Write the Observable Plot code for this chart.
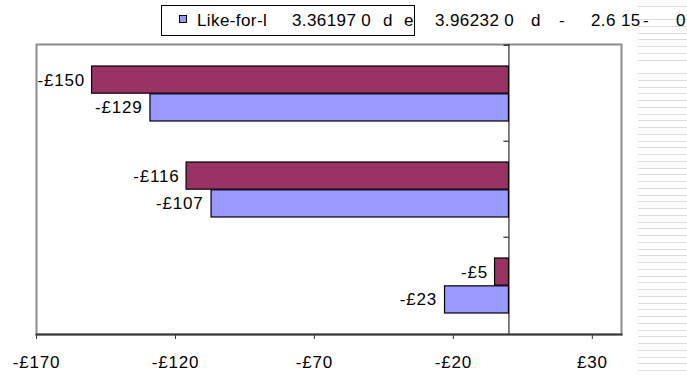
<!DOCTYPE html>
<html><head><meta charset="utf-8">
<script src="https://cdn.jsdelivr.net/npm/d3@7"></script>
<script src="https://cdn.jsdelivr.net/npm/@observablehq/plot@0.6"></script>
<style>
body{margin:0;background:#fff;font-family:"Liberation Sans",Arial,sans-serif;}
#wrap{position:relative;width:687px;height:377px;overflow:hidden;}
#grid{position:absolute;left:638px;top:0;width:49px;height:377px;
  background:repeating-linear-gradient(to bottom, transparent 0px, transparent 5.75px, #dcdcdc 5.75px, #dcdcdc 6.75px);}
#legend{position:relative;height:40px;font-size:17px;color:#000;letter-spacing:0.4px;}
#legend span{position:absolute;top:11px;line-height:20px;white-space:pre;}
#lbox{position:absolute;left:161px;top:5px;width:254px;height:31px;border:1px solid #000;box-sizing:border-box;}
#lsw{position:absolute;left:179px;top:15px;width:8px;height:8px;background:#9999FF;border:1px solid #000;box-sizing:border-box;}
#chart{position:relative;}
#chart svg text{letter-spacing:0.8px;}
</style></head>
<body>
<div id="wrap">
  <div id="grid"></div>
  <div id="legend"></div>
  <div id="chart"></div>
</div>
<script>
// Data
const groups = ["Group 1", "Group 2", "Group 3"];
const seriesNames = ["Series 1", "Like-for-like"];
const series1 = [-150, -116, -5];   // maroon
const series2 = [-129, -107, -23];  // blue
const xTicks = [-170, -120, -70, -20, 30];
const legendFragments = [
  ["Like-for-l", 197], ["3.36197 0", 292], ["d", 383], ["e", 404],
  ["3.96232 0", 435], ["d", 531], ["-", 559], ["2.6", 591], ["15", 621], ["-", 643], ["0", 676]
];

const fmt = d => (d < 0 ? "-£" + (-d) : "£" + d);

// Legend (above the SVG)
const leg = document.getElementById("legend");
leg.innerHTML = '<div id="lbox"></div><div id="lsw"></div>';
for (const [t, x] of legendFragments) {
  const s = document.createElement("span");
  s.textContent = t;
  s.style.left = x + "px";
  leg.appendChild(s);
}

const d1 = groups.map((g, i) => ({group: g, value: series1[i]}));
const d2 = groups.map((g, i) => ({group: g, value: series2[i]}));

const H = 337, MT = 4, MB = 43;
const band = (H - MT - MB) / groups.length;
const half = band / 2;
const top1 = 21, barH = (band - 21 - 20) / 2;

const chart = Plot.plot({
  width: 687,
  height: H,
  marginLeft: 36,
  marginRight: 66,
  marginTop: MT,
  marginBottom: MB,
  style: {fontFamily: '"Liberation Sans", Arial, sans-serif', fontSize: "17px", color: "#000", background: "transparent"},
  x: {domain: [-170, 40.5]},
  y: {domain: groups, padding: 0},
  marks: [
    Plot.frame({stroke: "#8c8c8c", strokeWidth: 2}),
    Plot.barX(d1, {x1: 0, x2: "value", y: "group", fill: "#993366", stroke: "#000", strokeWidth: 1.2,
      insetTop: top1, insetBottom: band - top1 - barH}),
    Plot.barX(d2, {x1: 0, x2: "value", y: "group", fill: "#9999FF", stroke: "#000", strokeWidth: 1.2,
      insetTop: top1 + barH, insetBottom: band - top1 - 2 * barH}),
    Plot.ruleX([0], {stroke: "#000", strokeWidth: 1}),
    Plot.ruleY(groups, {y: d => d, x1: 0, x2: 0, insetLeft: -5, dy: -half, stroke: "#000"}),
    Plot.text(d1, {x: "value", y: "group", text: d => fmt(d.value), textAnchor: "end", dx: -7,
      dy: top1 + barH / 2 - half, fill: "#000"}),
    Plot.text(d2, {x: "value", y: "group", text: d => fmt(d.value), textAnchor: "end", dx: -8,
      dy: top1 + 1.5 * barH - half, fill: "#000"}),
    Plot.axisX({ticks: xTicks, tickFormat: fmt, tickSize: 5, tickPadding: 16, label: null, stroke: "#333"}),
    Plot.axisY({ticks: [], label: null}),
    Plot.frame({anchor: "bottom", stroke: "#3a3a3a", strokeWidth: 2})
  ]
});
document.getElementById("chart").appendChild(chart);
</script>
</body></html>
